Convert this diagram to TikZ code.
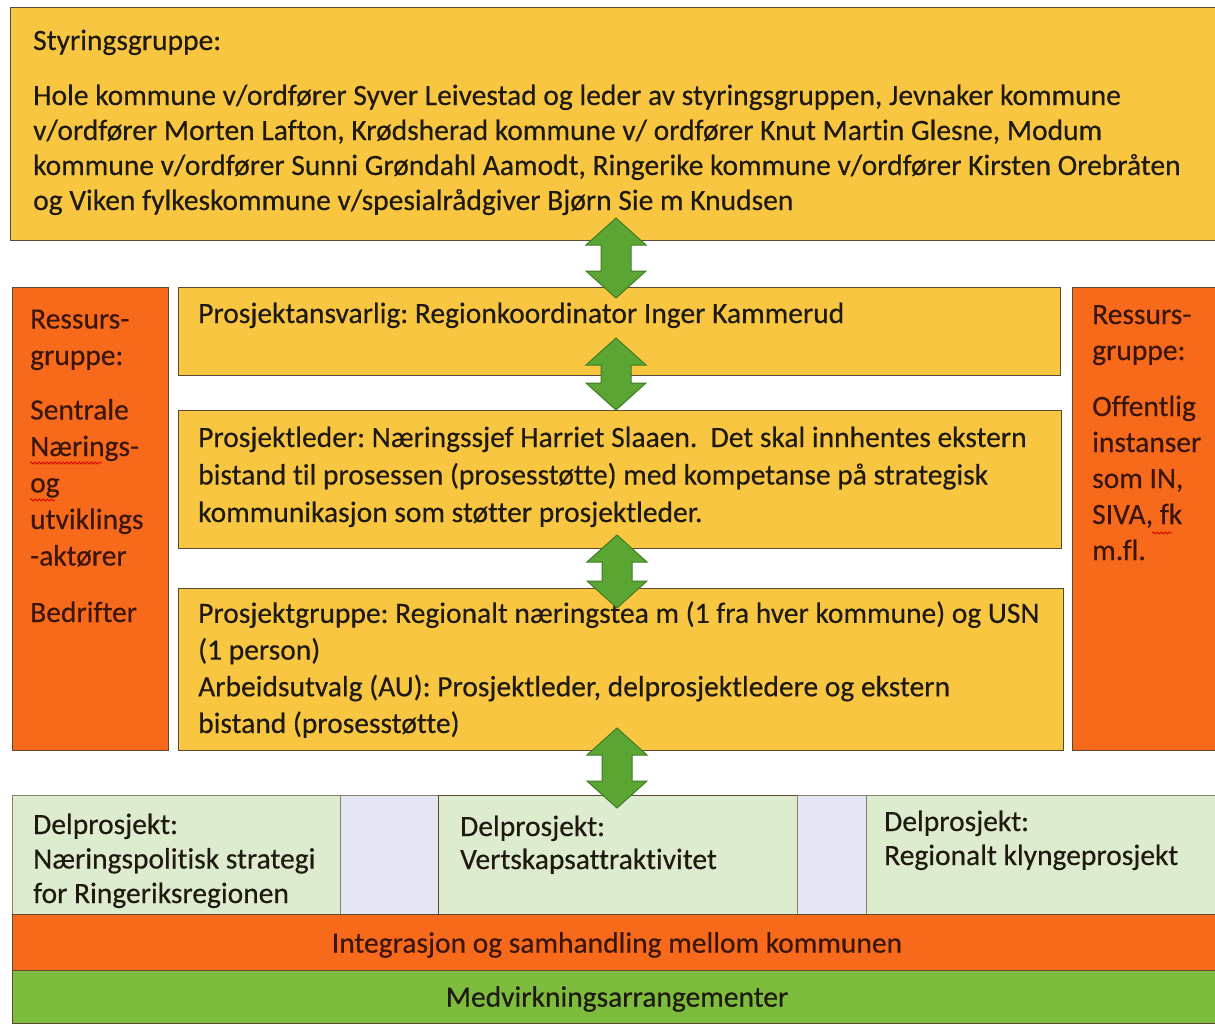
\documentclass[tikz,border=0pt]{standalone}
\usepackage{fontspec}
\setmainfont{Carlito}[FakeBold=0.35, Ligatures=NoCommon]
\frenchspacing
\usetikzlibrary{decorations.pathmorphing}
\definecolor{ygold}{HTML}{F9C642}
\definecolor{orng}{HTML}{F76A1C}
\definecolor{lgreen}{HTML}{DDEBCF}
\definecolor{lav}{HTML}{E4E6F3}
\definecolor{bgreen}{HTML}{7DBC3C}
\definecolor{agreen}{HTML}{5BA533}
\definecolor{agreend}{HTML}{3E7D25}
\definecolor{edge}{HTML}{5A4A30}
\definecolor{ytext}{HTML}{1E1A10}
\definecolor{otext}{HTML}{3A1608}
\newcommand\dblarr[3]{%
  \filldraw[arrowst] (#1,#2) -- (#1+30,#2+27) -- (#1+15,#2+27) -- (#1+15,#3-27)
    -- (#1+30,#3-27) -- (#1,#3) -- (#1-30,#3-27) -- (#1-15,#3-27)
    -- (#1-15,#2+27) -- (#1-30,#2+27) -- cycle;}
\begin{document}
\begin{tikzpicture}[x=1pt,y=-1pt,
  box/.style={rectangle, draw=edge, line width=1.3pt, inner sep=0pt, anchor=north west},
  ybox/.style={box, fill=ygold},
  obox/.style={box, fill=orng},
  gbox/.style={box, fill=lgreen, draw=edge!70},
  lbox/.style={box, fill=lav, draw=edge!70},
  txt/.style={anchor=base west, align=left, inner sep=0pt, text=ytext, font=\fontsize{29.5}{35}\selectfont},
  otxt/.style={txt, text=otext},
  ctxt/.style={anchor=center, inner sep=0pt, text=ytext, font=\fontsize{29.5}{35}\selectfont},
  arrowst/.style={fill=agreen, draw=agreend, line width=1pt, line join=miter},
  squig/.style={draw=red!85!black, line width=0.9pt, decorate, decoration={snake, amplitude=1pt, segment length=4pt}}
]
\useasboundingbox (0,0) rectangle (1215,1025);
\fill[white] (0,0) rectangle (1215,1025);

% boxes
\node[ybox, minimum width=1215pt, minimum height=233pt] (styr) at (10,7) {};
\node[obox, minimum width=156pt, minimum height=463pt] (resl) at (12,287) {};
\node[obox, minimum width=150pt, minimum height=463pt] (resr) at (1072,287) {};
\node[ybox, minimum width=882pt, minimum height=88pt] (pa) at (178,287) {};
\node[ybox, minimum width=883pt, minimum height=138pt] (pl) at (178,410) {};
\node[ybox, minimum width=885pt, minimum height=162pt] (pg) at (178,588) {};

\node[gbox, minimum width=328pt, minimum height=119pt] (d1) at (12,795) {};
\node[lbox, minimum width=98pt, minimum height=119pt] (g1) at (340,795) {};
\node[gbox, minimum width=359pt, minimum height=119pt, draw=edge] (d2) at (438,795) {};
\node[lbox, minimum width=69pt, minimum height=119pt] (g2) at (797,795) {};
\node[gbox, minimum width=360pt, minimum height=119pt] (d3) at (866,795) {};
\node[obox, minimum width=1215pt, minimum height=56pt] (integ) at (12,914) {};
\node[box, fill=bgreen, minimum width=1215pt, minimum height=53pt] (medv) at (12,970) {};

% texts (anchored at the baseline of their last line)
\node[txt] (t-styr) at (33,210) {Styringsgruppe:\\[20pt]
Hole kommune v/ordfører Syver Leivestad og leder av styringsgruppen, Jevnaker kommune\\
v/ordfører Morten Lafton, Krødsherad kommune v/ ordfører Knut Martin Glesne, Modum\\
kommune v/ordfører Sunni Grøndahl Aamodt, Ringerike kommune v/ordfører Kirsten Orebråten\\
og Viken fylkeskommune v/spesialrådgiver Bjørn Sie m Knudsen};

\node[txt] (t-pa) at (198,323) {Prosjektansvarlig: Regionkoordinator Inger Kammerud};

\node[txt, font=\fontsize{29.5}{37.5}\selectfont] (t-pl) at (198,522) {Prosjektleder: Næringssjef Harriet Slaaen.\ \ Det skal innhentes ekstern\\
bistand til prosessen (prosesstøtte) med kompetanse på strategisk\\
kommunikasjon som støtter prosjektleder.};

\node[txt, font=\fontsize{29.5}{36.7}\selectfont] (t-pg) at (198,733) {Prosjektgruppe: Regionalt næringstea m (1 fra hver kommune) og USN\\
(1 person)\\
Arbeidsutvalg (AU): Prosjektleder, delprosjektledere og ekstern\\
bistand (prosesstøtte)};

\node[otxt, font=\fontsize{29.5}{36.5}\selectfont] (t-resl) at (30,622) {Ressurs-\\
gruppe:\\[18pt]
Sentrale\\
Nærings-\\
og\\
utviklings\\
-aktører\\[20pt]
Bedrifter};

\node[otxt, font=\fontsize{29.5}{36}\selectfont] (t-resr) at (1092,560) {Ressurs-\\
gruppe:\\[20pt]
Offentlig\\
instanser\\
som IN,\\
SIVA, fk\\
m.fl.};

\node[txt, font=\fontsize{29.5}{34.5}\selectfont] (t-d1) at (33,903) {Delprosjekt:\\
Næringspolitisk strategi\\
for Ringeriksregionen};
\node[txt, font=\fontsize{29.5}{33}\selectfont] (t-d2) at (460,869) {Delprosjekt:\\
Vertskapsattraktivitet};
\node[txt, font=\fontsize{29.5}{34}\selectfont] (t-d3) at (884,865) {Delprosjekt:\\
Regionalt klyngeprosjekt};

\node[ctxt, text=otext] (t-integ) at (617,945) {Integrasjon og samhandling mellom kommunen};
\node[ctxt] (t-medv) at (617,999) {Medvirkningsarrangementer};

% spell-check underlines
\draw[squig] (30,463) -- (102,463);
\draw[squig] (30,500) -- (55,500);
\draw[squig] (1152,533) -- (1172,533);

% double arrows
\dblarr{616}{218}{298}
\dblarr{616}{338}{410}
\dblarr{617}{535}{608}
\dblarr{617}{728}{808}
\end{tikzpicture}
\end{document}
